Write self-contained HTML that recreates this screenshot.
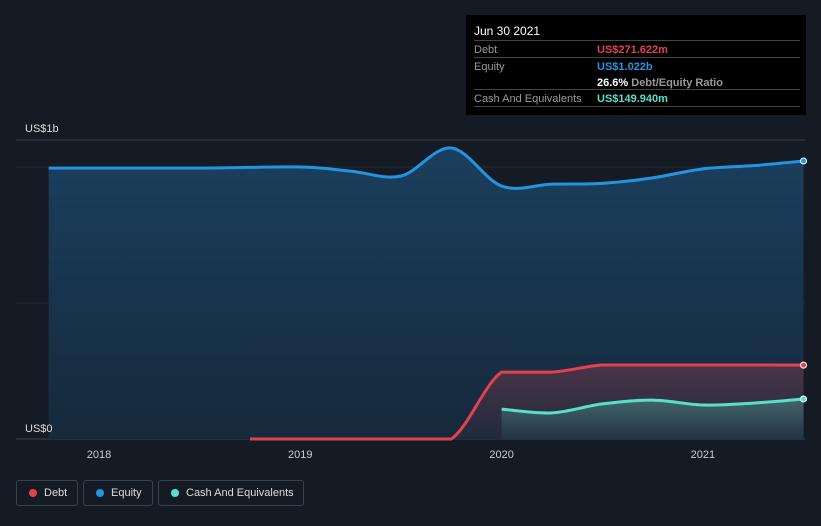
<!DOCTYPE html>
<html><head><meta charset="utf-8"><style>
body{margin:0;background:#151b24;font-family:"Liberation Sans",sans-serif;}
#wrap{position:relative;width:821px;height:526px;overflow:hidden;background:#151b24;}
.tt{position:absolute;left:466px;top:15px;width:340px;height:100px;background:#000;color:#ccc;font-size:11px;}
.row{position:absolute;left:8px;right:6px;border-top:1px solid #444;height:17px;}
.lbl{position:absolute;left:0;top:3px;color:#999;}
.val{position:absolute;left:123px;top:3px;font-weight:bold;}
.legend{position:absolute;top:480px;height:26px;border:1px solid #3a4250;border-radius:3px;color:#ddd;font-size:11px;line-height:24px;box-sizing:border-box;padding-left:27px;white-space:nowrap;}
.legend span{position:absolute;left:12px;top:8px;width:8px;height:8px;border-radius:50%;}
</style></head><body>
<div id="wrap">
<svg id="svg" width="821" height="526" style="position:absolute;left:0;top:0"></svg>
<div class="tt">
<div style="position:absolute;left:8px;top:9px;color:#fff;font-size:12px">Jun 30 2021</div>
<div class="row" style="top:25px"><div class="lbl">Debt</div><div class="val" style="color:#e2424f">US$271.622m</div></div>
<div class="row" style="top:42px"><div class="lbl">Equity</div><div class="val" style="color:#2394df">US$1.022b</div></div>
<div class="row" style="top:59px;border-top:none"><div class="val" style="color:#fff">26.6% <span style="color:#999;font-weight:bold">Debt/Equity Ratio</span></div></div>
<div class="row" style="top:74px"><div class="lbl">Cash And Equivalents</div><div class="val" style="color:#58e0c8">US$149.940m</div></div>
<div class="row" style="top:91px;height:0"></div>
</div>
<div class="legend" style="left:16px;width:62px"><span style="background:#e2424f"></span>Debt</div>
<div class="legend" style="left:83px;width:70px"><span style="background:#2394df"></span>Equity</div>
<div class="legend" style="left:158px;width:146px"><span style="background:#58e0c8"></span>Cash And Equivalents</div>
</div>
<script>
const equityT=[2017.75,2018.5,2019.0,2019.25,2019.5,2019.75,2020.0,2020.25,2020.5,2020.75,2021.0,2021.25,2021.5];
const equityV=[0.996,0.996,1.0,0.985,0.967,1.07,0.93,0.937,0.94,0.96,0.993,1.005,1.022];
const debtT=[2018.75,2019.0,2019.5,2019.75,2020.0,2020.25,2020.5,2020.75,2021.0,2021.25,2021.5];
const debtV=[0,0,0,0,0.246,0.246,0.272,0.272,0.272,0.272,0.2716];
const cashT=[2020.0,2020.25,2020.5,2020.75,2021.0,2021.25,2021.5];
const cashV=[0.11,0.096,0.129,0.143,0.125,0.132,0.147];
const xTicks=[2018,2019,2020,2021];
const yLabels=["US$0","US$1b"];
const X=t=>99+(t-2018)*201.3;
const Y=v=>439-v*272;
const svg=document.getElementById('svg');const NS='http://www.w3.org/2000/svg';
function mk(tag,a,name){const e=document.createElementNS(NS,tag);for(const k in a)e.setAttribute(k,a[k]);


svg.appendChild(e);return e;}
function path(T,V){const p=T.map((t,i)=>[X(t),Y(V[i])]);let d='M'+p[0][0]+','+p[0][1];
for(let i=0;i<p.length-1;i++){const p0=p[Math.max(0,i-1)],p1=p[i],p2=p[i+1],p3=p[Math.min(p.length-1,i+2)];
let c1y=p1[1]+(p2[1]-p0[1])/6,c2y=p2[1]-(p3[1]-p1[1])/6;
if(p1[1]==p2[1]){c1y=p1[1];c2y=p2[1];}
d+=`C${p1[0]+(p2[0]-p0[0])/6},${c1y} ${p2[0]-(p3[0]-p1[0])/6},${c2y} ${p2[0]},${p2[1]}`;}return d;}
[[140,'#3a404a'],[167,'#262c36'],[303,'#262c36'],[439,'#3a404a']].forEach((g,i)=>mk('line',{x1:16,x2:805,y1:g[0],y2:g[0],stroke:g[1],'stroke-width':1},'gridline-'+i));
const defs=mk('defs',{},'defs');
defs.innerHTML='<linearGradient id="gd" x1="0" y1="0" x2="0" y2="1"><stop offset="0" stop-color="#e2424f" stop-opacity="0.25"/><stop offset="1" stop-color="#e2424f" stop-opacity="0.05"/></linearGradient><linearGradient id="gc" x1="0" y1="0" x2="0" y2="1"><stop offset="0" stop-color="#58e0c8" stop-opacity="0.3"/><stop offset="1" stop-color="#58e0c8" stop-opacity="0.05"/></linearGradient><linearGradient id="ge" x1="0" y1="0" x2="0" y2="1"><stop offset="0" stop-color="#1a3f5e"/><stop offset="1" stop-color="#16293b"/></linearGradient>';
function series(T,V,col,fill,name){const d=path(T,V);
mk('path',{d:d+`L${X(T[T.length-1])},439L${X(T[0])},439Z`,fill:fill},name+'-area');
mk('path',{d:d,fill:'none',stroke:col,'stroke-width':3},name+'-line');
mk('circle',{cx:X(T[T.length-1]),cy:Y(V[V.length-1]),r:3,fill:col,stroke:'#fff','stroke-width':1},name+'-end-dot');}
series(equityT,equityV,'#2394df','url(#ge)','equity');
series(debtT,debtV,'#e2424f','url(#gd)','debt');
series(cashT,cashV,'#58e0c8','url(#gc)','cash');
xTicks.forEach(t=>{const e=mk('text',{x:X(t),y:458,fill:'#ccc','font-size':11,'text-anchor':'middle','font-family':'Liberation Sans'},'x-tick-'+t);e.textContent=t;});
yLabels.forEach((l,i)=>{const e=mk('text',{x:25,y:i?132:432,fill:'#ddd','font-size':11,'font-family':'Liberation Sans'},'y-label-'+i);e.textContent=l;});
</script>
</body></html>
